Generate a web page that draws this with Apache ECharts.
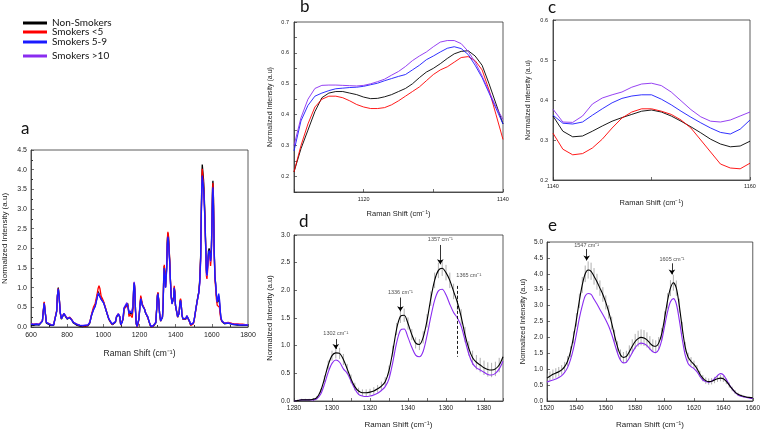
<!DOCTYPE html>
<html><head><meta charset="utf-8">
<script src="https://cdn.jsdelivr.net/npm/echarts@6/dist/echarts.min.js"></script>
<style>html,body{margin:0;padding:0;background:#fff}#c{width:763px;height:430px}</style>
</head><body><div id="c"></div>
<script>
// ---------- Panel a (full spectrum) ----------
const aShift = [
600,615,630,645,656,663,668,673,678,685,
695,710,725,735,742,746,751,756,762,768,
775,782,787,793,800,808,814,818,825,835,
845,855,870,885,900,915,925,935,945,955,
965,971,976,981,988,995,1002,1010,1020,1030,
1040,1050,1060,1067,1073,1078,1083,1087,1091,1096,
1100,1105,1110,1115,1120,1125,1130,1134,1138,1142,
1146,1150,1155,1160,1164,1168,1171,1174,1178,1182,
1187,1192,1197,1202,1207,1211,1216,1222,1228,1234,
1240,1246,1252,1258,1264,1270,1276,1284,1290,1295,
1299,1302,1306,1311,1317,1322,1327,1331,1334,1337,
1340,1344,1347,1350,1354,1357,1360,1364,1367,1371,
1375,1380,1385,1389,1392,1395,1399,1403,1407,1411,
1415,1419,1423,1427,1431,1435,1440,1445,1450,1456,
1462,1468,1473,1478,1483,1488,1493,1498,1503,1508,
1513,1518,1523,1528,1533,1538,1542,1545,1547,1550,
1554,1558,1562,1566,1570,1573,1577,1581,1585,1589,
1593,1597,1601,1604,1606,1609,1613,1617,1621,1625,
1630,1634,1638,1642,1646,1650,1656,1662,1670,1680,
1690,1700,1712,1725,1740,1755,1770,1785,1800
];
const aNonSmokers = [
.05,.04,.06,.05,.05,.15,.40,.62,.40,.10,
.05,.04,.04,.08,.40,.80,1.00,.75,.35,.20,
.25,.33,.37,.30,.20,.18,.24,.25,.18,.10,
.08,.04,.02,.01,.02,.03,.10,.30,.45,.55,
.75,.90,.95,.90,.72,.68,.62,.50,.35,.20,
.12,.06,.05,.12,.25,.28,.32,.36,.25,.05,
.00,.08,.21,.47,.46,.475,.55,.605,.50,.31,
.35,.375,.32,.30,.50,1.00,1.13,.95,.40,.08,
.00,.05,.20,.50,.75,.70,.55,.50,.45,.35,
.30,.25,.15,.06,.00,.00,.02,.02,.10,.45,
.80,.87,.70,.35,.15,.15,.25,.60,1.30,1.55,
1.35,1.02,1.05,1.50,2.20,2.38,2.30,1.95,1.70,1.20,
.80,.60,.55,.75,1.00,.90,.55,.45,.35,.25,
.20,.35,.60,.70,.55,.30,.20,.15,.15,.20,
.28,.33,.25,.12,.05,.02,.02,.10,.20,.35,
.50,.65,.78,.90,1.20,1.80,3.00,3.80,4.13,4.10,
3.75,3.35,2.80,2.10,1.45,1.37,1.60,1.92,2.00,1.92,
1.72,1.90,2.80,3.55,3.72,3.30,2.00,1.30,1.10,.82,
.62,.65,.72,.62,.42,.22,.14,.10,.08,.10,
.10,.08,.07,.06,.05,.05,.04,.04,.04
];
const aSmokersLt5 = [
.08,.07,.08,.07,.06,.16,.42,.64,.42,.12,
.07,.06,.06,.10,.42,.80,.98,.74,.36,.22,
.26,.34,.38,.32,.22,.20,.25,.25,.19,.12,
.09,.06,.04,.03,.03,.04,.12,.33,.50,.60,
.82,.98,1.05,.98,.78,.72,.64,.52,.36,.21,
.12,.06,.05,.13,.27,.30,.33,.37,.26,.05,
.00,.08,.21,.46,.425,.445,.53,.585,.48,.265,
.33,.378,.30,.24,.45,1.00,1.13,.95,.40,.08,
.00,.06,.22,.55,.80,.75,.58,.52,.46,.36,
.30,.25,.15,.06,.00,.00,.02,.03,.12,.48,
.82,.88,.70,.35,.15,.15,.26,.62,1.33,1.58,
1.37,1.02,1.07,1.55,2.25,2.42,2.33,1.98,1.72,1.20,
.80,.60,.55,.78,1.05,.92,.55,.45,.35,.25,
.20,.36,.62,.72,.56,.30,.20,.15,.15,.20,
.28,.33,.25,.12,.04,.01,.01,.08,.18,.33,
.48,.62,.75,.88,1.15,1.75,2.95,3.75,4.02,3.98,
3.65,3.25,2.70,2.00,1.30,1.22,1.45,1.80,1.87,1.80,
1.55,1.78,2.70,3.50,3.66,3.25,1.95,1.20,1.00,.72,
.55,.55,.60,.50,.32,.20,.14,.11,.10,.12,
.12,.10,.09,.08,.08,.07,.07,.06,.06
];
const aSmokers5to9 = [
.07,.06,.07,.06,.06,.15,.40,.60,.40,.11,
.06,.05,.05,.09,.40,.78,.97,.74,.36,.21,
.26,.34,.37,.31,.21,.19,.24,.24,.18,.11,
.09,.06,.04,.03,.04,.05,.11,.30,.43,.52,
.72,.85,.88,.85,.70,.66,.61,.50,.35,.21,
.13,.07,.06,.13,.26,.29,.33,.37,.26,.06,
.01,.12,.283,.478,.492,.524,.59,.614,.47,.34,
.393,.413,.343,.35,.52,1.00,1.12,.95,.41,.09,
.01,.06,.21,.50,.72,.68,.55,.50,.45,.35,
.30,.25,.15,.07,.01,.01,.03,.03,.11,.45,
.78,.85,.68,.35,.15,.15,.25,.58,1.27,1.50,
1.32,1.00,1.03,1.45,2.13,2.30,2.22,1.88,1.65,1.17,
.78,.59,.55,.75,1.00,.88,.55,.45,.36,.26,
.21,.35,.58,.68,.54,.30,.21,.16,.16,.21,
.28,.33,.26,.13,.06,.03,.03,.10,.20,.35,
.50,.63,.76,.88,1.12,1.70,2.90,3.60,3.85,3.80,
3.55,3.20,2.70,2.05,1.40,1.32,1.55,1.85,1.95,1.87,
1.68,1.85,2.70,3.40,3.55,3.10,1.95,1.30,1.10,.85,
.64,.70,.85,.72,.45,.24,.15,.11,.09,.10,
.10,.08,.07,.06,.06,.05,.05,.05,.05
];
const aSmokersGt10 = [
.08,.07,.08,.07,.06,.15,.40,.60,.40,.12,
.07,.06,.06,.10,.40,.78,.96,.73,.36,.22,
.27,.35,.37,.31,.22,.20,.24,.24,.19,.12,
.10,.07,.05,.04,.05,.06,.12,.31,.44,.53,
.74,.87,.90,.86,.71,.66,.61,.50,.36,.22,
.14,.08,.07,.14,.27,.30,.34,.38,.27,.07,
.02,.13,.30,.496,.495,.54,.62,.63,.47,.344,
.413,.442,.36,.37,.55,1.02,1.15,.97,.42,.10,
.02,.07,.22,.50,.72,.68,.55,.50,.45,.36,
.31,.26,.16,.08,.02,.02,.04,.04,.12,.45,
.76,.83,.67,.35,.16,.16,.26,.57,1.25,1.46,
1.30,1.00,1.02,1.42,2.08,2.25,2.18,1.85,1.62,1.15,
.77,.58,.55,.74,.98,.87,.55,.45,.36,.26,
.22,.35,.57,.67,.54,.31,.22,.17,.17,.22,
.29,.34,.27,.14,.07,.04,.04,.11,.21,.35,
.50,.62,.75,.86,1.10,1.65,2.85,3.55,3.80,3.75,
3.50,3.15,2.65,2.00,1.38,1.30,1.52,1.82,1.92,1.85,
1.66,1.82,2.65,3.35,3.50,3.05,1.90,1.28,1.08,.84,
.63,.68,.80,.70,.44,.24,.15,.12,.10,.11,
.11,.09,.08,.07,.07,.06,.06,.06,.06
];

// ---------- Panel b (1110-1140) ----------
const bShift = [1110,1111,1112,1113,1114,1115,1116,1117,1118,1119,1120,1121,1122,1123,1124,1125,1126,1127,1128,1129,1130,1131,1132,1133,1134,1135,1136,1137,1138,1139,1140];
const bNonSmokers = [.215,.29,.35,.41,.455,.47,.475,.475,.47,.465,.457,.452,.453,.458,.465,.475,.485,.50,.52,.538,.55,.565,.582,.597,.605,.607,.59,.56,.50,.435,.37];
const bSmokersLt5 = [.215,.30,.37,.425,.45,.46,.46,.455,.445,.433,.425,.42,.42,.423,.432,.445,.46,.475,.49,.51,.53,.545,.555,.57,.585,.588,.575,.545,.48,.40,.32];
const bSmokers5to9 = [.283,.38,.43,.46,.47,.478,.484,.486,.488,.489,.492,.497,.502,.51,.517,.524,.53,.545,.56,.578,.59,.603,.615,.62,.614,.595,.56,.52,.47,.42,.37];
const bSmokersGt10 = [.30,.39,.45,.485,.495,.496,.496,.495,.494,.493,.495,.50,.507,.515,.528,.54,.556,.575,.59,.603,.62,.635,.64,.64,.63,.605,.57,.525,.475,.425,.385];

// ---------- Panel c (1140-1160) ----------
const cShift = [1140,1141,1142,1143,1144,1145,1146,1147,1148,1149,1150,1151,1152,1153,1154,1155,1156,1157,1158,1159,1160];
const cNonSmokers = [.36,.322,.308,.31,.322,.335,.347,.356,.364,.372,.375,.37,.36,.347,.333,.318,.302,.29,.283,.285,.297];
const cSmokersLt5 = [.317,.277,.263,.266,.28,.302,.33,.355,.37,.378,.378,.372,.364,.35,.33,.30,.27,.24,.23,.228,.242];
const cSmokers5to9 = [.362,.342,.34,.345,.362,.378,.393,.404,.41,.413,.413,.402,.388,.372,.357,.343,.33,.319,.315,.327,.35];
const cSmokersGt10 = [.377,.345,.344,.36,.39,.405,.413,.42,.432,.44,.442,.436,.42,.398,.376,.358,.347,.345,.35,.36,.37];

// ---------- Panel d (1280-1390) ----------
const dShift = [1280,1282,1284,1286,1288,1290,1292,1294,1296,1298,1300,1302,1304,1306,1308,1310,1312,1314,1316,1318,1320,1322,1324,1326,1328,1330,1332,1334,1336,1338,1340,1342,1344,1346,1348,1350,1352,1354,1356,1358,1360,1362,1364,1366,1368,1370,1372,1374,1376,1378,1380,1382,1384,1386,1388,1390];
const dNonSmokers = [.00,.01,.02,.02,.02,.03,.06,.18,.40,.65,.82,.87,.86,.75,.58,.40,.26,.18,.15,.15,.16,.18,.22,.27,.35,.55,.90,1.30,1.53,1.55,1.40,1.20,1.05,1.02,1.15,1.45,1.85,2.18,2.36,2.40,2.32,2.18,1.98,1.78,1.52,1.20,.95,.78,.70,.65,.60,.57,.56,.58,.65,.80];
const dSmokers = [.00,.01,.02,.02,.02,.02,.04,.12,.30,.52,.68,.74,.70,.58,.50,.36,.22,.12,.09,.08,.09,.11,.14,.19,.26,.40,.70,1.05,1.28,1.30,1.15,.97,.83,.80,.90,1.18,1.52,1.82,1.99,2.02,1.92,1.75,1.60,1.50,1.35,1.10,.85,.68,.60,.56,.52,.48,.47,.50,.58,.72];
const dError = [.02,.02,.02,.02,.02,.02,.03,.04,.06,.08,.09,.10,.10,.10,.09,.08,.07,.06,.06,.06,.06,.07,.07,.08,.08,.09,.10,.11,.12,.12,.11,.10,.10,.10,.11,.12,.13,.14,.14,.14,.14,.14,.14,.14,.14,.14,.13,.13,.13,.13,.13,.13,.13,.13,.13,.12];
const dPeaks = [[1302, 1.22, '1302 cm⁻¹'], [1336, 1.97, '1336 cm⁻¹'], [1357, 2.92, '1357 cm⁻¹'], [1372, 2.27, '1365 cm⁻¹']];

// ---------- Panel e (1520-1660) ----------
const eShift = [1520,1522,1524,1526,1528,1530,1532,1534,1536,1538,1540,1542,1544,1546,1548,1550,1552,1554,1556,1558,1560,1562,1564,1566,1568,1570,1572,1574,1576,1578,1580,1582,1584,1586,1588,1590,1592,1594,1596,1598,1600,1602,1604,1606,1608,1610,1612,1614,1616,1618,1620,1622,1624,1626,1628,1630,1632,1634,1636,1638,1640,1642,1644,1646,1648,1650,1652,1654,1656,1658,1660];
const eNonSmokers = [.72,.78,.84,.88,.92,.98,1.08,1.25,1.55,2.00,2.55,3.15,3.65,4.00,4.12,4.08,3.92,3.75,3.55,3.35,3.10,2.80,2.45,2.05,1.70,1.45,1.37,1.40,1.55,1.72,1.87,1.96,2.00,1.98,1.92,1.82,1.74,1.72,1.82,2.10,2.60,3.15,3.55,3.72,3.55,3.00,2.30,1.70,1.38,1.25,1.15,1.02,.85,.72,.64,.61,.62,.66,.70,.72,.70,.62,.50,.38,.28,.21,.17,.14,.12,.11,.10];
const eSmokers = [.60,.63,.66,.69,.74,.80,.90,1.05,1.30,1.65,2.10,2.60,3.00,3.30,3.38,3.35,3.20,3.05,2.88,2.72,2.55,2.35,2.10,1.80,1.50,1.28,1.20,1.22,1.35,1.52,1.68,1.78,1.82,1.80,1.74,1.64,1.55,1.52,1.62,1.90,2.35,2.80,3.12,3.22,3.05,2.55,1.95,1.45,1.18,1.08,1.02,.92,.78,.66,.61,.59,.62,.70,.80,.86,.82,.68,.52,.38,.27,.19,.15,.13,.11,.09,.08];
const eError = [.15,.15,.15,.15,.15,.15,.15,.16,.17,.19,.21,.23,.25,.26,.27,.27,.26,.25,.24,.23,.22,.21,.20,.19,.18,.17,.17,.18,.20,.22,.24,.25,.25,.25,.24,.22,.20,.19,.19,.20,.22,.24,.25,.25,.24,.22,.19,.16,.14,.13,.12,.11,.10,.10,.10,.10,.10,.10,.10,.10,.10,.09,.08,.07,.06,.05,.04,.04,.03,.03,.03];
const ePeaks = [[1547, 4.9, '1547 cm⁻¹'], [1605, 4.45, '1605 cm⁻¹']];

const seriesNames = ['Non-Smokers', 'Smokers <5', 'Smokers 5-9', 'Smokers >10'];
const colors = { 'Non-Smokers': '#000000', 'Smokers <5': '#ff0000', 'Smokers 5-9': '#1a1aff', 'Smokers >10': '#8a2cf0' };

const FONT = 'Liberation Sans';
const pair = (xs, ys) => xs.map((x, i) => [x, ys[i]]);
const triple = (xs, ys, es) => xs.map((x, i) => [x, ys[i], es[i]]);

function xAx(g, min, max, interval, labelFn, fs, nameFs, margin, nameGap) {
  return {
    gridIndex: g, type: 'value', min, max, interval,
    name: 'Raman Shift (cm⁻¹)', nameLocation: 'middle', nameGap,
    nameTextStyle: { fontFamily: FONT, fontSize: nameFs, color: '#222' },
    axisLine: { show: true, onZero: false, lineStyle: { color: '#333', width: 0.8 } },
    axisTick: { show: true, inside: true, length: 3, lineStyle: { color: '#333', width: 0.7 } },
    axisLabel: { fontFamily: FONT, fontSize: fs, color: '#222', margin, formatter: labelFn, showMinLabel: true, showMaxLabel: true },
    splitLine: { show: false }
  };
}
function yAx(g, min, max, interval, labelFn, fs, nameFs, margin, nameGap) {
  return {
    gridIndex: g, type: 'value', min, max, interval,
    name: 'Normalized Intensity (a.u)', nameLocation: 'middle', nameGap,
    nameTextStyle: { fontFamily: FONT, fontSize: nameFs, color: '#222' },
    axisLine: { show: true, onZero: false, lineStyle: { color: '#333', width: 0.8 } },
    axisTick: { show: true, inside: true, length: 3, lineStyle: { color: '#333', width: 0.7 } },
    axisLabel: { fontFamily: FONT, fontSize: fs, color: '#222', margin, formatter: labelFn, showMinLabel: true, showMaxLabel: true },
    splitLine: { show: false }
  };
}
const fix1 = v => v.toFixed(1);
const every20 = v => (Math.round(v) % 20 === 0 ? String(Math.round(v)) : '');
const tenths = v => (Math.abs(v * 10 - Math.round(v * 10)) < 1e-6 ? v.toFixed(1) : '');

function lineS(name, xi, yi, xs, ys, width, smooth) {
  return {
    name, type: 'line', xAxisIndex: xi, yAxisIndex: yi, data: pair(xs, ys),
    showSymbol: false, symbol: 'none', smooth: smooth || false, animation: false,
    lineStyle: { color: colors[name], width }, itemStyle: { color: colors[name] }, z: 3
  };
}
function errS(xi, yi, xs, ys, es) {
  return {
    type: 'custom', xAxisIndex: xi, yAxisIndex: yi, data: triple(xs, ys, es), animation: false, clip: true,
    encode: { x: 0, y: 1 }, z: 2,
    renderItem: (params, api) => {
      const x = api.value(0), y = api.value(1), e = api.value(2);
      const p1 = api.coord([x, y - e]), p2 = api.coord([x, y + e]);
      return { type: 'line', shape: { x1: p1[0], y1: p1[1], x2: p2[0], y2: p2[1] }, style: { stroke: '#9a9a9a', lineWidth: 0.8 } };
    }
  };
}
function labelS(xi, yi, pts) {
  return {
    type: 'scatter', xAxisIndex: xi, yAxisIndex: yi, data: pts, symbolSize: 0, animation: false, z: 5,
    label: { show: true, position: 'inside', formatter: p => p.data[2], fontFamily: FONT, fontSize: 5.5, color: '#222' }
  };
}
function arrowLines(coordsList) {
  return {
    symbol: ['none', 'arrow'], symbolSize: 5, silent: true, animation: false,
    label: { show: false }, lineStyle: { color: '#000', width: 0.8, type: 'solid' },
    data: coordsList.map(c => [{ coord: [c[0], c[1]] }, { coord: [c[0], c[2]] }])
  };
}

const gridBox = { show: true, borderColor: '#333', borderWidth: 0.8, backgroundColor: 'transparent' };

const option = {
  backgroundColor: '#fff',
  animation: false,
  legend: seriesNames.map((n, i) => ({
    data: [n], left: 23, top: [18, 27, 37, 51][i], orient: 'vertical', padding: 0,
    itemWidth: 24, itemHeight: 3, icon: 'rect', itemGap: 0,
    textStyle: { fontFamily: 'Lato', fontSize: 10, color: '#111' }
  })),
  graphic: [
    { type: 'text', left: 21, top: 120, style: { text: 'a', font: '17px Lato', fill: '#111' } },
    { type: 'text', left: 300, top: -2, style: { text: 'b', font: '17px Lato', fill: '#111' } },
    { type: 'text', left: 548, top: -1, style: { text: 'c', font: '17px Lato', fill: '#111' } },
    { type: 'text', left: 299, top: 213, style: { text: 'd', font: '17px Lato', fill: '#111' } },
    { type: 'text', left: 548, top: 217, style: { text: 'e', font: '17px Lato', fill: '#111' } }
  ],
  grid: [
    Object.assign({ left: 28, top: 150, width: 220, height: 177 }, gridBox),
    Object.assign({ left: 294, top: 22, width: 209, height: 170 }, gridBox),
    Object.assign({ left: 553, top: 20, width: 197, height: 160 }, gridBox),
    Object.assign({ left: 294, top: 235, width: 209, height: 167 }, gridBox),
    Object.assign({ left: 547, top: 242, width: 208, height: 161 }, gridBox)
  ],
  xAxis: [
    Object.assign(xAx(0, 600, 1800, 200, v => String(v), 7, 8.5, 5, 22), { minorTick: { show: true, splitNumber: 2, length: 2 } }),
    xAx(1, 1110, 1140, 10, every20, 5.5, 7.5, 4, 18),
    xAx(2, 1140, 1160, 10, every20, 5.5, 7.5, 3, 19),
    xAx(3, 1280, 1390, 10, v => (v < 1390 && Math.round(v) % 20 === 0 ? String(v) : ''), 6.5, 8, 4, 20),
    xAx(4, 1520, 1660, 20, v => String(v), 6.5, 8, 4, 20)
  ],
  yAxis: [
    Object.assign(yAx(0, 0, 4.5, 0.5, fix1, 7, 8, 4, 22), { minorTick: { show: true, splitNumber: 2, length: 2 } }),
    yAx(1, 0.15, 0.7, 0.05, tenths, 5.5, 7, 5, 20),
    yAx(2, 0.2, 0.6, 0.1, fix1, 5.5, 7, 5, 21),
    yAx(3, 0, 3, 0.5, fix1, 6.5, 7.5, 4, 20),
    yAx(4, 0, 5, 0.5, fix1, 6.5, 7.5, 4, 20)
  ],
  series: [
    lineS('Non-Smokers', 0, 0, aShift, aNonSmokers, 1.3),
    lineS('Smokers <5', 0, 0, aShift, aSmokersLt5, 1.3),
    lineS('Smokers >10', 0, 0, aShift, aSmokersGt10, 1.3),
    lineS('Smokers 5-9', 0, 0, aShift, aSmokers5to9, 1.3),

    lineS('Non-Smokers', 1, 1, bShift, bNonSmokers, 0.9),
    lineS('Smokers <5', 1, 1, bShift, bSmokersLt5, 0.9),
    lineS('Smokers 5-9', 1, 1, bShift, bSmokers5to9, 0.9),
    lineS('Smokers >10', 1, 1, bShift, bSmokersGt10, 0.9),

    lineS('Non-Smokers', 2, 2, cShift, cNonSmokers, 0.9),
    lineS('Smokers <5', 2, 2, cShift, cSmokersLt5, 0.9),
    lineS('Smokers 5-9', 2, 2, cShift, cSmokers5to9, 0.9),
    lineS('Smokers >10', 2, 2, cShift, cSmokersGt10, 0.9),

    errS(3, 3, dShift, dNonSmokers, dError),
    lineS('Smokers >10', 3, 3, dShift, dSmokers, 1.1, 0.3),
    Object.assign(lineS('Non-Smokers', 3, 3, dShift, dNonSmokers, 1.1, 0.3), {
      markLine: arrowLines([[1302, 1.12, 0.94], [1336, 1.87, 1.62], [1357, 2.82, 2.47]])
    }),
    Object.assign(labelS(3, 3, dPeaks), {
      markLine: {
        symbol: ['none', 'none'], silent: true, animation: false, label: { show: false },
        lineStyle: { color: '#000', width: 0.9, type: [3, 2] },
        data: [[{ coord: [1366, 2.08] }, { coord: [1366, 0.8] }]]
      }
    }),

    errS(4, 4, eShift, eNonSmokers, eError),
    lineS('Smokers >10', 4, 4, eShift, eSmokers, 1.1, 0.3),
    Object.assign(lineS('Non-Smokers', 4, 4, eShift, eNonSmokers, 1.1, 0.3), {
      markLine: arrowLines([[1547, 4.78, 4.42], [1605, 4.33, 3.98]])
    }),
    labelS(4, 4, ePeaks)
  ]
};
const chart = echarts.init(document.getElementById('c'), null, { renderer: 'canvas' });
chart.setOption(option);
</script></body></html>
